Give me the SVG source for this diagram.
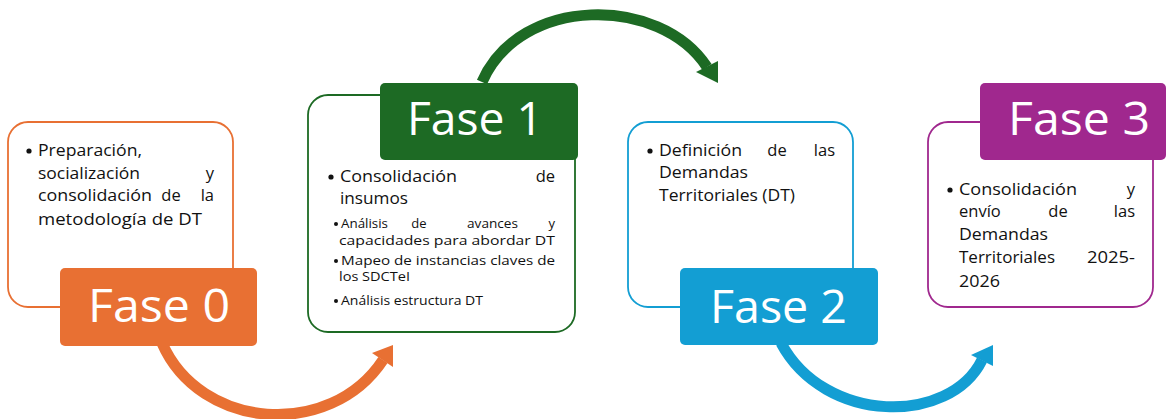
<svg xmlns="http://www.w3.org/2000/svg" width="1167" height="419" viewBox="0 0 1167 419">
<style>
.frame{fill:#fff;stroke-width:1.8}
.title{font-family:"Open Sans",Lato,sans-serif;font-size:46px;fill:#fff}
.body{font-family:"Open Sans",Lato,sans-serif;font-size:16.5px;fill:#111}
.small{font-family:"Open Sans",Lato,sans-serif;font-size:13px;fill:#111}
.end{text-anchor:end}
.mid{text-anchor:middle}
.arc{fill:none;stroke-width:11}
</style>
<rect width="1167" height="419" fill="#fff"/>
<g id="connectors">
  <path class="arc" stroke="#E87033" d="M162 343 C200 430 330 440 383 360"/>
  <polygon fill="#E87033" points="393,345 372,353 393,367"/>
  <path class="arc" stroke="#1D6A24" d="M482 82 C520 -5 660 -5 707 67"/>
  <polygon fill="#1D6A24" points="718,61 696,72 718,83"/>
  <path class="arc" stroke="#139ED3" d="M781 343 C825 425 950 425 982 360"/>
  <polygon fill="#139ED3" points="993,345 971,355 993,366"/>
</g>
<g id="fase0">
  <rect class="frame" stroke="#E87033" x="8" y="122" width="225" height="185" rx="20"/>
  <circle cx="29" cy="151" r="2.6" fill="#111"/>
  <text class="body" x="38" y="156" textLength="104" lengthAdjust="spacingAndGlyphs">Preparación,</text>
  <text class="body" x="38" y="179" textLength="102" lengthAdjust="spacingAndGlyphs">socialización</text>
  <text class="body end" x="214" y="179">y</text>
  <text class="body" x="38" y="201" textLength="114" lengthAdjust="spacingAndGlyphs">consolidación</text>
  <text class="body mid" x="171" y="201">de</text>
  <text class="body end" x="214" y="201">la</text>
  <text class="body" x="38" y="225" textLength="164" lengthAdjust="spacingAndGlyphs">metodología de DT</text>
  <rect x="60" y="268" width="197" height="78" rx="5" fill="#E87033"/>
  <text class="title" x="88" y="322" textLength="142" lengthAdjust="spacingAndGlyphs">Fase 0</text>
</g>
<g id="fase1">
  <rect class="frame" stroke="#1D6A24" x="308" y="95" width="267" height="237" rx="20"/>
  <rect x="380" y="83" width="198" height="77" rx="5" fill="#1D6A24"/>
  <text class="title" x="407" y="135" textLength="136" lengthAdjust="spacingAndGlyphs">Fase 1</text>
  <circle cx="331" cy="177" r="2.6" fill="#111"/>
  <text class="body" x="340" y="182" textLength="117" lengthAdjust="spacingAndGlyphs">Consolidación</text>
  <text class="body end" x="555" y="182">de</text>
  <text class="body" x="340" y="204" textLength="68" lengthAdjust="spacingAndGlyphs">insumos</text>
  <circle cx="336" cy="224" r="2" fill="#111"/>
  <text class="small" x="341" y="228" textLength="47" lengthAdjust="spacingAndGlyphs">Análisis</text>
  <text class="small mid" x="419" y="228">de</text>
  <text class="small" x="467" y="228" textLength="51" lengthAdjust="spacingAndGlyphs">avances</text>
  <text class="small end" x="555" y="228">y</text>
  <text class="small" x="339" y="245" textLength="216" lengthAdjust="spacingAndGlyphs">capacidades para abordar DT</text>
  <circle cx="336" cy="261" r="2" fill="#111"/>
  <text class="small" x="341" y="265" textLength="214" lengthAdjust="spacingAndGlyphs">Mapeo de instancias claves de</text>
  <text class="small" x="339" y="281" textLength="71" lengthAdjust="spacingAndGlyphs">los SDCTeI</text>
  <circle cx="336" cy="301" r="2" fill="#111"/>
  <text class="small" x="341" y="305" textLength="142" lengthAdjust="spacingAndGlyphs">Análisis estructura DT</text>
</g>
<g id="fase2">
  <rect class="frame" stroke="#139ED3" x="628" y="122" width="225" height="185" rx="20"/>
  <circle cx="650" cy="151" r="2.6" fill="#111"/>
  <text class="body" x="659" y="156" textLength="83" lengthAdjust="spacingAndGlyphs">Definición</text>
  <text class="body mid" x="777" y="156">de</text>
  <text class="body end" x="835" y="156">las</text>
  <text class="body" x="659" y="178" textLength="89" lengthAdjust="spacingAndGlyphs">Demandas</text>
  <text class="body" x="659" y="201" textLength="136" lengthAdjust="spacingAndGlyphs">Territoriales (DT)</text>
  <rect x="680" y="268" width="198" height="77" rx="5" fill="#139ED3"/>
  <text class="title" x="710" y="323" textLength="137" lengthAdjust="spacingAndGlyphs">Fase 2</text>
</g>
<g id="fase3">
  <rect class="frame" stroke="#A0288E" x="928" y="122" width="225" height="185" rx="20"/>
  <rect x="980" y="83" width="186" height="77" rx="5" fill="#A0288E"/>
  <text class="title" x="1008" y="135" textLength="142" lengthAdjust="spacingAndGlyphs">Fase 3</text>
  <circle cx="950" cy="190" r="2.6" fill="#111"/>
  <text class="body" x="959" y="195" textLength="118" lengthAdjust="spacingAndGlyphs">Consolidación</text>
  <text class="body end" x="1135" y="195">y</text>
  <text class="body" x="959" y="217">envío</text>
  <text class="body mid" x="1058" y="217">de</text>
  <text class="body end" x="1135" y="217">las</text>
  <text class="body" x="959" y="240" textLength="89" lengthAdjust="spacingAndGlyphs">Demandas</text>
  <text class="body" x="959" y="263" textLength="96" lengthAdjust="spacingAndGlyphs">Territoriales</text>
  <text class="body" x="1087" y="263" textLength="48" lengthAdjust="spacingAndGlyphs">2025-</text>
  <text class="body" x="959" y="287" textLength="41" lengthAdjust="spacingAndGlyphs">2026</text>
</g>
</svg>
